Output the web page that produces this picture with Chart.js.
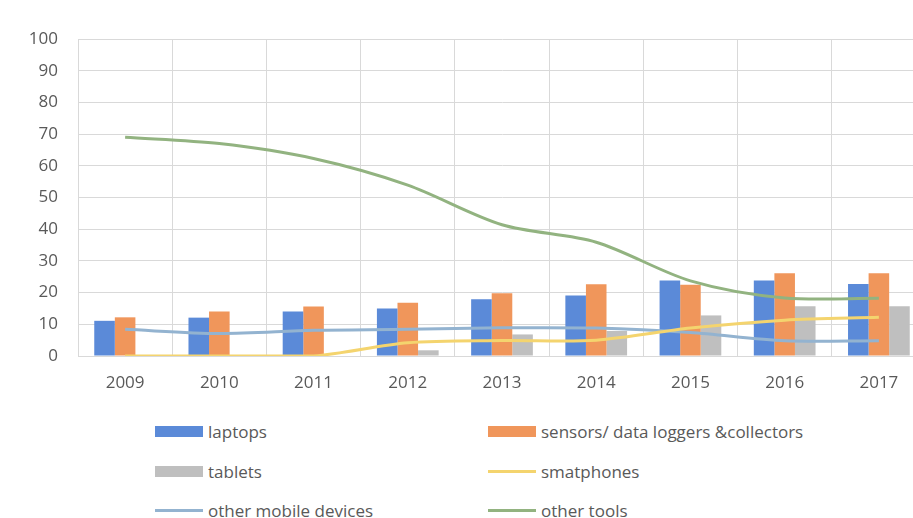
<!DOCTYPE html>
<html>
<head>
<meta charset="utf-8">
<script src="https://cdn.jsdelivr.net/npm/chart.js@4"></script>
<style>
    html, body { margin: 0; padding: 0; background: #fff; overflow: hidden; }
    body { width: 913px; height: 518px; position: relative; font-family: "Open Sans", sans-serif; }
    #wrap { position: absolute; left: 0; top: 0; width: 930px; height: 401px; }
    #legend { position: absolute; left: 0; top: 0; }
    .item { position: absolute; display: flex; align-items: center; font-size: 17px; color: #595959; white-space: nowrap; height: 24px; }
    .mark { width: 48px; margin-right: 5px; }
</style>
</head>
<body>
<div id="wrap"><canvas id="chart"></canvas></div>
<div id="legend"></div>
<script>
const years = ['2009', '2010', '2011', '2012', '2013', '2014', '2015', '2016', '2017'];
const laptops = [11.1, 12.1, 14, 15, 17.9, 19.1, 23.8, 23.8, 22.7];
const sensors = [12.2, 14, 15.6, 16.8, 19.8, 22.6, 22.5, 26.1, 26.1];
const tablets = [0, 0, 0, 1.8, 6.8, 7.9, 12.8, 15.7, 15.7];
const smatphones = [0, 0, 0, 4.2, 4.9, 5, 8.8, 11.3, 12.2];
const otherMobile = [8.4, 7.1, 8.1, 8.4, 8.9, 8.8, 7.4, 4.8, 4.8];
const otherTools = [69, 67, 62.3, 53.9, 41.4, 35.9, 23.7, 18.3, 18.2];
const yTicks = [0, 10, 20, 30, 40, 50, 60, 70, 80, 90, 100];

const gridColor = '#d9d9d9';
const textColor = '#595959';

function barSet(label, data, color) {
    return { type: 'bar', label: label, data: data, backgroundColor: color, order: 2,
             barPercentage: 1, categoryPercentage: 0.655 };
}
function lineSet(label, data, color) {
    return { type: 'line', label: label, data: data, borderColor: color, backgroundColor: color,
             borderWidth: 3, pointRadius: 0, tension: 0.3, order: 1 };
}

const chart = new Chart(document.getElementById('chart'), {
    data: {
        labels: years,
        datasets: [
            barSet('laptops', laptops, '#5b8ad8'),
            barSet('sensors/ data loggers &collectors', sensors, '#f0965b'),
            barSet('tablets', tablets, '#bfbfbf'),
            lineSet('smatphones', smatphones, '#f4d46e'),
            lineSet('other mobile devices', otherMobile, '#93b3d0'),
            lineSet('other tools', otherTools, '#92b380')
        ]
    },
    options: {
        responsive: true,
        maintainAspectRatio: false,
        animation: false,
        layout: { padding: { top: 39, right: 4, bottom: 0, left: 0 } },
        plugins: { legend: { display: false }, tooltip: { enabled: false } },
        scales: {
            x: {
                grid: { color: gridColor, drawTicks: false, offset: true },
                border: { color: gridColor },
                ticks: { color: textColor, font: { family: 'Open Sans', size: 17 }, padding: 17, maxRotation: 0 },
                afterFit: s => { s.height = 45; }
            },
            y: {
                min: 0, max: 100,
                grid: { color: gridColor, drawTicks: false },
                border: { color: gridColor },
                afterBuildTicks: s => { s.ticks = yTicks.map(v => ({ value: v })); },
                ticks: { color: textColor, font: { family: 'Open Sans', size: 17 }, padding: 20 },
                afterFit: s => { s.width = 78; }
            }
        }
    }
});

// legend in two columns, built from the chart's datasets
const colX = [155, 488];
const rowY = [431, 471, 510];
const legendBox = document.getElementById('legend');
chart.data.datasets.forEach((ds, i) => {
    const item = document.createElement('div');
    item.className = 'item';
    item.style.left = colX[i % 2] + 'px';
    item.style.top = (rowY[Math.floor(i / 2)] - 12) + 'px';
    const mark = document.createElement('span');
    mark.className = 'mark';
    if (ds.type === 'bar') {
        mark.style.height = '11px';
        mark.style.background = ds.backgroundColor;
    } else {
        mark.style.height = '3px';
        mark.style.background = ds.borderColor;
    }
    const txt = document.createElement('span');
    txt.textContent = ds.label;
    item.appendChild(mark);
    item.appendChild(txt);
    legendBox.appendChild(item);
});
</script>
</body>
</html>
